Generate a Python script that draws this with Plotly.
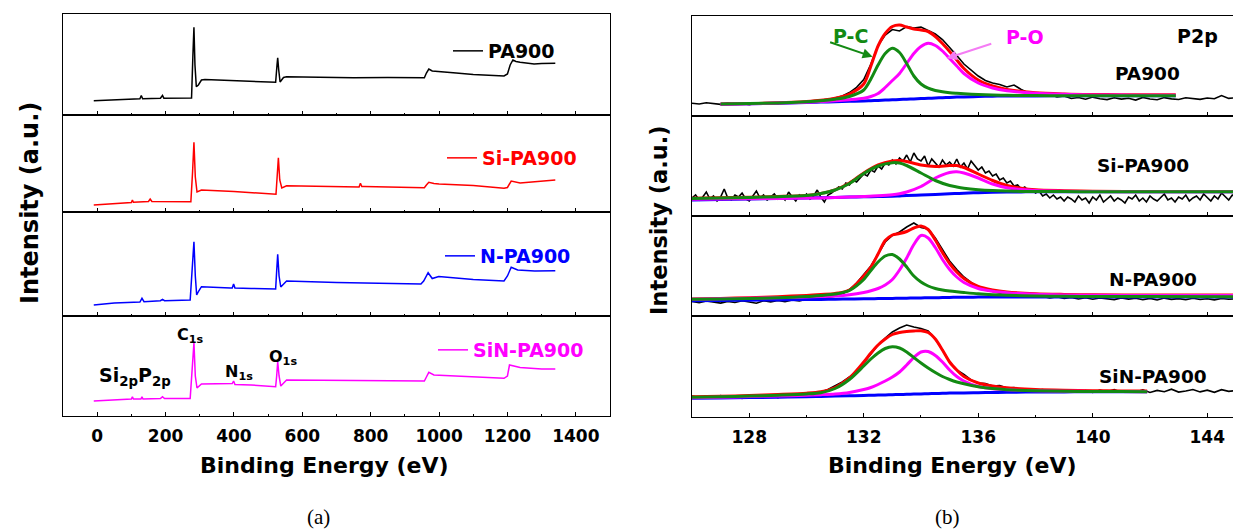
import plotly.graph_objects as go

# ---------------- Survey spectra (panel a) ----------------
pa900_survey_x = [-10, 60, 125, 129, 133, 185, 191, 195, 276, 280, 283, 286, 290, 296, 305, 315, 400, 450, 522, 526,
                  528, 531, 535, 545, 554, 650, 750, 850, 957, 963, 970, 980, 999, 1050, 1100, 1190, 1200, 1208, 1216,
                  1225, 1237, 1260, 1278, 1300, 1340]
pa900_survey_y = [14.3, 15.5, 16.3, 19.5, 16.3, 16.7, 19.5, 16.8, 17.0, 60.0, 87.7, 50.0, 28.3, 30.0, 35.0, 35.5, 34.5,
                  34.0, 32.7, 50.0, 57.3, 45.0, 33.0, 37.5, 38.3, 37.8, 37.3, 37.6, 37.3, 42.0, 46.0, 44.0, 43.3, 42.0,
                  40.5, 39.0, 41.0, 50.0, 55.0, 53.5, 52.7, 51.5, 51.0, 51.5, 51.7]

si_survey_x = [-10, 60, 100, 103, 106, 150, 155, 160, 274, 279, 283, 287, 292, 305, 400, 523, 526, 530, 534, 540, 554,
               650, 766, 770, 774, 780, 957, 963, 970, 985, 1000, 1100, 1190, 1200, 1211, 1237, 1300, 1340]
si_survey_y = [7.0, 8.5, 9.5, 12.0, 9.8, 10.5, 13.0, 10.5, 10.3, 40.0, 69.7, 35.0, 20.0, 22.0, 20.5, 17.7, 35.0, 54.3,
               32.0, 24.0, 26.3, 25.5, 25.0, 28.7, 25.5, 25.5, 24.3, 27.0, 29.7, 28.5, 28.0, 26.5, 23.7, 24.5, 31.0,
               29.0, 30.5, 32.0]

n_survey_x = [-10, 50, 125, 131, 137, 185, 191, 197, 272, 278, 283, 287, 291, 297, 305, 390, 395, 399, 403, 450, 522,
              525, 528, 532, 537, 554, 700, 947, 955, 968, 980, 999, 1100, 1190, 1200, 1211, 1230, 1280, 1340]
n_survey_y = [11.0, 13.0, 14.0, 17.7, 14.3, 15.3, 16.7, 15.3, 16.0, 45.0, 74.3, 40.0, 21.0, 25.0, 29.3, 28.0, 28.0,
              32.0, 28.0, 27.5, 27.0, 45.0, 61.7, 40.0, 29.0, 35.0, 33.5, 32.0, 35.0, 43.3, 37.5, 39.5, 36.5, 35.0,
              40.0, 48.7, 46.0, 45.0, 45.3]

sin_survey_x = [-10, 50, 100, 103, 106, 128, 131, 134, 185, 191, 197, 272, 278, 283, 287, 292, 305, 395, 399, 403,
                450, 522, 525, 528, 532, 537, 554, 700, 957, 963, 970, 985, 1100, 1190, 1200, 1206, 1237, 1300, 1340]
sin_survey_y = [15.0, 16.0, 17.0, 19.3, 17.0, 17.0, 19.3, 17.0, 17.5, 19.3, 17.5, 17.5, 45.0, 73.3, 40.0, 28.0, 32.0,
                32.5, 35.0, 31.5, 31.0, 29.3, 40.0, 54.3, 40.0, 30.0, 36.0, 35.5, 35.0, 39.0, 43.7, 41.0, 39.0, 37.7,
                40.0, 51.0, 48.5, 47.0, 47.0]

survey_names = ["PA900", "Si-PA900", "N-PA900", "SiN-PA900"]
survey_colors = ["#000000", "#ff0000", "#0000ff", "#ff00ff"]

# ---------------- P2p high-resolution spectra (panel b) ----------------
raw_x = [126.0, 126.25, 126.5, 126.75, 127.0, 127.25, 127.5, 127.75, 128.0, 128.25, 128.5, 128.75, 129.0, 129.25,
         129.5, 129.75, 130.0, 130.25, 130.5, 130.75, 131.0, 131.25, 131.5, 131.75, 132.0, 132.25, 132.5, 132.75,
         133.0, 133.25, 133.5, 133.75, 134.0, 134.25, 134.5, 134.75, 135.0, 135.25, 135.5, 135.75, 136.0, 136.25,
         136.5, 136.75, 137.0, 137.25, 137.5, 137.75, 138.0, 138.25, 138.5, 138.75, 139.0, 139.25, 139.5, 139.75,
         140.0, 140.25, 140.5, 140.75, 141.0, 141.25, 141.5, 141.75, 142.0, 142.25, 142.5, 142.75, 143.0, 143.25,
         143.5, 143.75, 144.0, 144.25, 144.5, 144.75, 145.0]

si_raw_x = [126.0, 126.125, 126.25, 126.375, 126.5, 126.625, 126.75, 126.875,
            127.0, 127.125, 127.25, 127.375, 127.5, 127.625, 127.75, 127.875,
            128.0, 128.125, 128.25, 128.375, 128.5, 128.625, 128.75, 128.875,
            129.0, 129.125, 129.25, 129.375, 129.5, 129.625, 129.75, 129.875,
            130.0, 130.125, 130.25, 130.375, 130.5, 130.625, 130.75, 130.875,
            131.0, 131.125, 131.25, 131.375, 131.5, 131.625, 131.75, 131.875,
            132.0, 132.125, 132.25, 132.375, 132.5, 132.625, 132.75, 132.875,
            133.0, 133.125, 133.25, 133.375, 133.5, 133.625, 133.75, 133.875,
            134.0, 134.125, 134.25, 134.375, 134.5, 134.625, 134.75, 134.875,
            135.0, 135.125, 135.25, 135.375, 135.5, 135.625, 135.75, 135.875,
            136.0, 136.125, 136.25, 136.375, 136.5, 136.625, 136.75, 136.875,
            137.0, 137.125, 137.25, 137.375, 137.5, 137.625, 137.75, 137.875,
            138.0, 138.125, 138.25, 138.375, 138.5, 138.625, 138.75, 138.875,
            139.0, 139.125, 139.25, 139.375, 139.5, 139.625, 139.75, 139.875,
            140.0, 140.125, 140.25, 140.375, 140.5, 140.625, 140.75, 140.875,
            141.0, 141.125, 141.25, 141.375, 141.5, 141.625, 141.75, 141.875,
            142.0, 142.125, 142.25, 142.375, 142.5, 142.625, 142.75, 142.875,
            143.0, 143.125, 143.25, 143.375, 143.5, 143.625, 143.75, 143.875,
            144.0, 144.125, 144.25, 144.375, 144.5, 144.625, 144.75, 144.875,
            145.0]

pa900_raw = [12.8, 12.0, 13.2, 12.4, 11.6, 12.9, 11.8, 12.6, 11.4, 12.7, 12.1, 13.3, 12.5, 13.6, 13.0, 14.2, 13.8, 14.9,
             15.4, 16.6, 17.9, 20.1, 23.4, 28.7, 36.5, 52.0, 70.5, 81.0, 86.5, 85.0, 89.5, 88.0, 89.0, 85.5, 82.0,
             76.5, 69.0, 60.5, 52.0, 45.5, 40.0, 35.5, 33.0, 31.5, 29.0, 31.0, 26.5, 23.0, 22.5, 20.5, 21.5, 19.0,
             20.0, 17.5, 18.5, 16.8, 18.9, 17.2, 16.4, 18.3, 16.9, 17.8, 15.9, 18.6, 17.0, 16.2, 18.4, 17.1, 16.5,
             18.2, 17.4, 16.6, 18.0, 17.2, 20.5, 17.6, 18.2]
si_raw = [18, 21, 16, 19, 24, 17, 20, 15,
          19, 27, 18, 16, 21, 19, 23, 17,
          15, 20, 25, 18, 21, 16, 19, 22,
          17, 20, 16, 24, 19, 15, 21, 18,
          22, 17, 20, 26, 19, 14, 21, 23,
          26, 29, 27, 33, 31, 36, 34, 38,
          42, 40, 46, 44, 50, 47, 53, 51,
          56, 52, 58, 55, 61, 54, 63, 57,
          55, 60, 50, 57, 53, 49, 56, 51,
          54, 50, 57, 49, 53, 47, 55, 50,
          46, 49, 43, 45, 40, 42, 36, 38,
          33, 35, 30, 31, 27, 29, 25, 27,
          23, 25, 20, 22, 18, 21, 17, 19,
          15, 19, 17, 14, 20, 16, 18, 13,
          19, 16, 21, 14, 17, 20, 15, 18,
          16, 13, 19, 17, 21, 15, 18, 14,
          20, 17, 15, 19, 22, 16, 18, 14,
          19, 17, 21, 15, 18, 20, 16, 22,
          18, 15, 20, 17, 23, 19, 16, 21,
          19]
n_raw = [14.5, 13.2, 15.0, 13.8, 12.9, 14.6, 13.5, 15.2, 14.0, 12.8, 15.3, 14.1, 15.6, 14.4, 16.0, 15.1, 16.7, 15.9,
         17.5, 18.6, 19.8, 22.0, 26.5, 33.0, 41.0, 50.0, 62.0, 74.0, 80.5, 84.0, 89.0, 93.0, 88.5, 87.0, 78.0, 66.0,
         55.0, 46.5, 39.0, 33.5, 29.0, 27.0, 24.5, 23.0, 21.5, 21.0, 19.5, 20.2, 18.8, 19.5, 18.0, 19.2, 17.5, 18.6,
         17.0, 18.3, 16.8, 18.0, 17.2, 16.4, 18.1, 16.9, 17.8, 16.3, 17.6, 16.0, 17.9, 16.6, 17.4, 16.2, 17.7, 16.5,
         17.3, 16.1, 17.5, 16.8, 17.2]
sin_raw = [21.0, 19.5, 20.8, 18.9, 21.5, 19.8, 20.4, 18.6, 21.2, 19.9, 20.6, 21.8, 19.4, 21.5, 20.2, 22.4, 21.3, 23.0,
           25.0, 27.5, 31.0, 35.0, 40.0, 46.0, 54.0, 63.0, 72.0, 79.0, 85.0, 89.0, 92.0, 90.0, 88.5, 86.0, 78.0,
           67.0, 55.0, 47.0, 42.5, 37.0, 34.0, 33.5, 31.0, 31.5, 29.0, 29.5, 27.5, 28.2, 26.5, 27.4, 25.8, 27.0,
           25.5, 26.8, 25.0, 26.5, 24.6, 26.9, 25.2, 27.5, 24.8, 26.3, 25.0, 27.2, 24.5, 26.6, 25.3, 27.8, 24.9,
           26.0, 27.5, 25.1, 26.8, 24.7, 27.3, 25.6, 26.5]

# fitted components: background, P-C, P-O, envelope
pa900_fit_x = [127, 128, 129, 130, 130.5, 131, 131.5, 132, 132.25, 132.5, 132.75, 133, 133.25, 133.5, 133.75, 134,
               134.25, 134.5, 134.75, 135, 135.25, 135.5, 136, 136.5, 137, 138, 139, 140, 141, 142, 142.9]
pa900_bg = [11.7, 12.2, 12.8, 13.5, 13.9, 14.3, 14.7, 15.1, 15.3, 15.6, 15.9, 16.2, 16.5, 16.8, 17.1, 17.4, 17.7, 18.0,
            18.3, 18.6, 18.9, 19.1, 19.5, 19.8, 20.0, 20.1, 20.2, 20.2, 20.2, 20.2, 20.2]
pa900_pc = [11.9, 12.4, 13.1, 14.3, 15.2, 16.8, 19.5, 26.0, 37.0, 51.0, 62.5, 67.7, 63.5, 52.5, 40.0, 32.0, 27.8, 25.5,
            24.2, 23.3, 22.7, 22.2, 21.5, 21.0, 20.7, 20.4, 20.3, 20.2, 20.2, 20.2, 20.2]
pa900_po = [11.8, 12.3, 12.9, 13.8, 14.4, 15.2, 16.3, 17.8, 19.5, 22.5, 28.5, 35.5, 42.5, 52.5, 62.5, 69.5, 72.7, 70.5,
            65.0, 57.5, 50.0, 42.5, 33.0, 28.0, 25.3, 22.8, 21.7, 21.1, 20.9, 20.7, 20.7]
pa900_env = [12.0, 12.5, 13.2, 14.6, 15.8, 17.8, 22.0, 32.0, 50.0, 70.0, 82.5, 89.5, 91.0, 89.0, 87.0, 86.0, 84.5, 79.5,
             72.5, 64.5, 56.0, 47.5, 36.0, 30.0, 26.5, 23.2, 22.0, 21.5, 21.3, 21.2, 21.2]

si_fit_x = [126, 127, 128, 129, 130, 130.5, 131, 131.5, 132, 132.5, 133, 133.25, 133.5, 134, 134.5, 135, 135.25, 135.5,
            136, 136.5, 137, 137.5, 138, 139, 140, 142, 145]
si_bg = [16.0, 16.5, 17.0, 17.5, 18.0, 18.3, 18.6, 18.9, 19.2, 19.5, 19.8, 20.1, 20.4, 21.0, 21.6, 22.2, 22.5, 22.8,
         23.3, 23.7, 24.0, 24.1, 24.2, 24.2, 24.2, 24.2, 24.2]
si_pc = [17.5, 18.0, 18.6, 19.3, 20.5, 22.5, 26.0, 32.5, 42.5, 50.0, 53.3, 53.0, 50.5, 43.0, 35.5, 30.5, 29.0, 27.8,
         26.3, 25.4, 24.9, 24.6, 24.5, 24.4, 24.3, 24.3, 24.3]
si_po = [16.7, 17.0, 17.3, 17.6, 17.9, 18.1, 18.4, 18.9, 19.5, 20.2, 21.3, 22.3, 24.0, 29.5, 38.0, 43.5, 44.3, 43.0,
         38.0, 32.0, 28.3, 26.5, 25.5, 24.8, 24.5, 24.3, 24.3]
si_env = [17.7, 18.2, 18.8, 19.5, 20.6, 22.6, 26.2, 33.0, 43.0, 51.0, 55.0, 55.5, 54.5, 51.0, 49.5, 50.5, 50.5, 48.5,
          42.0, 35.5, 30.5, 27.8, 26.2, 25.3, 24.8, 24.5, 24.5]

n_fit_x = [126, 127, 128, 129, 130, 130.5, 131, 131.5, 132, 132.25, 132.5, 132.75, 133, 133.25, 133.5, 133.75, 134,
           134.25, 134.5, 134.75, 135, 135.25, 135.5, 136, 136.5, 137, 138, 139, 140, 142, 145]
n_bg = [15.3, 15.5, 15.8, 16.1, 16.4, 16.6, 16.8, 17.0, 17.2, 17.3, 17.4, 17.5, 17.6, 17.7, 17.8, 18.0, 18.1, 18.2,
        18.3, 18.45, 18.6, 18.7, 18.8, 18.9, 19.0, 19.0, 19.0, 19.0, 19.0, 19.0, 19.0]
n_pc = [16.7, 17.0, 17.5, 18.2, 19.5, 20.6, 22.0, 25.5, 36.5, 45.5, 54.0, 60.0, 61.5, 57.0, 49.0, 40.0, 34.0, 30.0,
        27.5, 26.0, 25.0, 24.2, 23.5, 22.2, 21.3, 20.7, 20.0, 19.7, 19.5, 19.4, 19.3]
n_po = [16.7, 17.2, 17.7, 18.3, 19.0, 19.5, 20.0, 21.2, 23.5, 25.2, 27.5, 31.0, 36.5, 46.0, 58.0, 71.5, 80.5, 78.0,
        68.5, 56.5, 46.5, 39.0, 33.5, 27.5, 24.8, 23.3, 21.7, 21.0, 20.7, 20.5, 20.4]
n_env = [17.0, 17.6, 18.3, 19.3, 20.6, 21.5, 22.5, 26.0, 40.0, 49.0, 62.0, 75.5, 81.0, 82.5, 84.5, 88.0, 90.0, 86.5,
         76.0, 63.5, 52.5, 44.0, 37.5, 29.5, 26.0, 24.0, 22.3, 21.6, 21.2, 21.0, 20.9]

sin_fit_x = [126, 127, 128, 129, 130, 130.5, 131, 131.5, 132, 132.25, 132.5, 132.75, 133, 133.25, 133.5, 133.75, 134,
             134.25, 134.5, 134.75, 135, 135.25, 135.5, 136, 136.5, 137, 138, 139, 140, 141, 141.9]
sin_bg = [18.7, 19.0, 19.4, 19.8, 20.3, 20.6, 20.9, 21.2, 21.5, 21.7, 21.9, 22.1, 22.3, 22.5, 22.7, 22.9, 23.1, 23.3,
          23.5, 23.7, 23.9, 24.0, 24.1, 24.3, 24.5, 24.7, 25.0, 25.1, 25.2, 25.3, 25.3]
sin_pc = [19.7, 20.2, 20.9, 21.8, 23.0, 24.3, 28.5, 37.5, 51.0, 58.0, 64.0, 68.5, 70.3, 69.0, 65.0, 59.5, 54.0, 49.0,
          44.5, 40.5, 37.5, 35.0, 33.2, 30.3, 28.4, 27.3, 26.2, 25.7, 25.5, 25.4, 25.3]
sin_po = [19.3, 19.8, 20.4, 21.0, 21.8, 22.3, 23.0, 24.5, 27.5, 29.5, 32.5, 36.0, 40.0, 45.0, 52.0, 59.5, 65.0, 65.5,
          61.5, 55.0, 47.0, 40.5, 36.0, 30.5, 28.3, 27.2, 26.2, 25.8, 25.5, 25.4, 25.3]
sin_env = [20.3, 20.8, 21.5, 22.5, 23.8, 25.3, 29.5, 39.0, 55.0, 64.0, 72.0, 78.0, 82.5, 84.5, 85.5, 86.0, 86.3, 84.5,
           78.0, 67.0, 55.0, 47.0, 40.5, 34.0, 31.0, 29.3, 27.6, 26.8, 26.3, 26.0, 25.9]

left_ticks = [0, 200, 400, 600, 800, 1000, 1200, 1400]
right_ticks = [128, 132, 136, 140, 144]

# ---------------- geometry (pixels) ----------------
W, H = 1233, 529
FONT = "DejaVu Sans"
left_box = (63, 610)
right_box = (692, 1233)
left_rows = [(14, 115), (115, 212), (212, 316), (316, 416)]
right_rows = [(16, 116), (116, 216), (216, 316), (316, 417)]


def fx(p):
    return p / W


def fy(p):
    return 1 - p / H


fig = go.Figure()

survey = [(pa900_survey_x, pa900_survey_y), (si_survey_x, si_survey_y),
          (n_survey_x, n_survey_y), (sin_survey_x, sin_survey_y)]
legend_ids = ["legend", "legend2", "legend3", "legend4"]
for i, (sx, sy) in enumerate(survey):
    fig.add_trace(go.Scatter(x=sx, y=sy, mode="lines", name=survey_names[i],
                             line=dict(color=survey_colors[i], width=1.5),
                             xaxis=f"x{i + 1}", yaxis=f"y{i + 1}", legend=legend_ids[i]))

hr = [
    (raw_x, pa900_raw, pa900_fit_x, pa900_bg, pa900_pc, pa900_po, pa900_env),
    (si_raw_x, si_raw, si_fit_x, si_bg, si_pc, si_po, si_env),
    (raw_x, n_raw, n_fit_x, n_bg, n_pc, n_po, n_env),
    (raw_x, sin_raw, sin_fit_x, sin_bg, sin_pc, sin_po, sin_env),
]
GREEN = "#138a13"
for i, (rx, raw, fxs, bg, pc, po, env) in enumerate(hr):
    xa, ya = f"x{i + 5}", f"y{i + 5}"
    fig.add_trace(go.Scatter(x=rx, y=raw, mode="lines", line=dict(color="black", width=1.6),
                             xaxis=xa, yaxis=ya, showlegend=False))
    fig.add_trace(go.Scatter(x=fxs, y=bg, mode="lines", line=dict(color="#0000ff", width=3, shape="spline"),
                             xaxis=xa, yaxis=ya, showlegend=False))
    fig.add_trace(go.Scatter(x=fxs, y=env, mode="lines",
                             line=dict(color="#ff0000", width=3, shape="spline", smoothing=0.8),
                             xaxis=xa, yaxis=ya, showlegend=False))
    fig.add_trace(go.Scatter(x=fxs, y=po, mode="lines",
                             line=dict(color="#ff00ff", width=3, shape="spline", smoothing=0.8),
                             xaxis=xa, yaxis=ya, showlegend=False))
    fig.add_trace(go.Scatter(x=fxs, y=pc, mode="lines",
                             line=dict(color=GREEN, width=3, shape="spline", smoothing=0.8),
                             xaxis=xa, yaxis=ya, showlegend=False))

layout = dict(width=W, height=H, margin=dict(l=0, r=0, t=0, b=0), autosize=False,
              paper_bgcolor="white", plot_bgcolor="white", font=dict(family=FONT, color="black"))

tickfont = dict(family=FONT, size=17, color="black", weight="bold")
LW = 1.3
for i in range(4):
    # left
    top, bot = left_rows[i]
    n = i + 1
    layout[f"xaxis{n}"] = dict(domain=[fx(left_box[0]), fx(left_box[1])], range=[-100, 1500], anchor=f"y{n}",
                               showline=True, mirror=True, linecolor="black", linewidth=LW, showgrid=False,
                               zeroline=False, ticks="inside", ticklen=4, tickwidth=1.3, tickcolor="black",
                               tickvals=left_ticks, showticklabels=(i == 3), tickfont=tickfont,
                               ticklabelstandoff=4,
                               minor=dict(ticks="inside", ticklen=2, tickwidth=1.2, dtick=100, tick0=0,
                                          tickcolor="black"))
    layout[f"yaxis{n}"] = dict(domain=[fy(bot), fy(top)], range=[0, bot - top], anchor=f"x{n}",
                               showline=True, mirror=True, linecolor="black", linewidth=LW, showgrid=False,
                               zeroline=False, ticks="", showticklabels=False)
    # right
    top, bot = right_rows[i]
    n = i + 5
    layout[f"xaxis{n}"] = dict(domain=[fx(right_box[0]), fx(right_box[1])], range=[126, 144.9], anchor=f"y{n}",
                               showline=True, mirror=True, linecolor="black", linewidth=LW, showgrid=False,
                               zeroline=False, ticks="inside", ticklen=4, tickwidth=1.3, tickcolor="black",
                               tickvals=right_ticks, showticklabels=(i == 3), tickfont=tickfont,
                               ticklabelstandoff=4,
                               minor=dict(ticks="inside", ticklen=2, tickwidth=1.2, dtick=2, tick0=126,
                                          tickcolor="black"))
    layout[f"yaxis{n}"] = dict(domain=[fy(bot), fy(top)], range=[0, bot - top], anchor=f"x{n}",
                               showline=True, mirror=True, linecolor="black", linewidth=LW, showgrid=False,
                               zeroline=False, ticks="", showticklabels=False)

# legends of panel (a)
legend_text_left = [448, 442, 440, 433]
legend_center_y = [51, 158, 256, 350]
for i, lid in enumerate(legend_ids):
    layout[lid] = dict(x=fx(legend_text_left[i]), y=fy(legend_center_y[i]), xanchor="left", yanchor="middle",
                       bgcolor="rgba(0,0,0,0)", borderwidth=0,
                       font=dict(family=FONT, size=19, color=survey_colors[i], weight="bold"))

bold = dict(family=FONT, color="black", weight="bold")
ann = []
# panel (a) peak labels
for txt, xv, yv, sz in [("Si<sub>2p</sub>P<sub>2p</sub>", 111, 40, 19), ("C<sub>1s</sub>", 274, 81, 16),
                        ("N<sub>1s</sub>", 415, 44, 16), ("O<sub>1s</sub>", 543, 59, 16)]:
    ann.append(dict(text=txt, x=xv, y=yv, xref="x4", yref="y4", showarrow=False,
                    font=dict(bold, size=sz), xanchor="center", yanchor="middle"))
# panel (b) labels
ann.append(dict(text="P2p", x=143.67, y=80, xref="x5", yref="y5", showarrow=False, font=dict(bold, size=19)))
for i, (xv, yv) in enumerate([(141.9, 42), (141.76, 51), (142.12, 36.7), (142.12, 40.3)]):
    ann.append(dict(text=survey_names[i], x=xv, y=yv, xref=f"x{i + 5}", yref=f"y{i + 5}", showarrow=False,
                    font=dict(bold, size=18.5)))
ann.append(dict(text="P-C", x=131.52, y=80, xref="x5", yref="y5", showarrow=False,
                font=dict(family=FONT, size=19, color=GREEN, weight="bold")))
ann.append(dict(text="", x=132.31, y=59.3, xref="x5", yref="y5", showarrow=True, ax=-44, ay=-15,
                arrowcolor=GREEN, arrowwidth=2, arrowhead=2, arrowsize=1))
ann.append(dict(text="P-O", x=137.62, y=79.3, xref="x5", yref="y5", showarrow=False,
                font=dict(family=FONT, size=19, color="#ff00ff", weight="bold")))
ann.append(dict(text="", x=134.9, y=57.7, xref="x5", yref="y5", showarrow=True, ax=46, ay=-15,
                arrowcolor="#f47cf4", arrowwidth=2, arrowhead=2, arrowsize=1))
# axis titles
for xc, yc in [(324, 465), (952, 465)]:
    ann.append(dict(text="Binding Energy (eV)", x=fx(xc), y=fy(yc), xref="paper", yref="paper", showarrow=False,
                    xanchor="center", yanchor="middle", font=dict(bold, size=22)))
for xc, yc, sz in [(30, 203, 24), (659, 220, 22.5)]:
    ann.append(dict(text="Intensity (a.u.)", x=fx(xc), y=fy(yc), xref="paper", yref="paper", showarrow=False,
                    textangle=-90, xanchor="center", yanchor="middle", font=dict(bold, size=sz)))
# sub-figure captions
for txt, xc in [("(a)", 318), ("(b)", 948)]:
    ann.append(dict(text=txt, x=fx(xc), y=fy(517), xref="paper", yref="paper", showarrow=False,
                    xanchor="center", yanchor="middle",
                    font=dict(family="Liberation Serif", size=21, color="black")))

layout["annotations"] = ann
fig.update_layout(**layout)
fig.write_html("out.html")
